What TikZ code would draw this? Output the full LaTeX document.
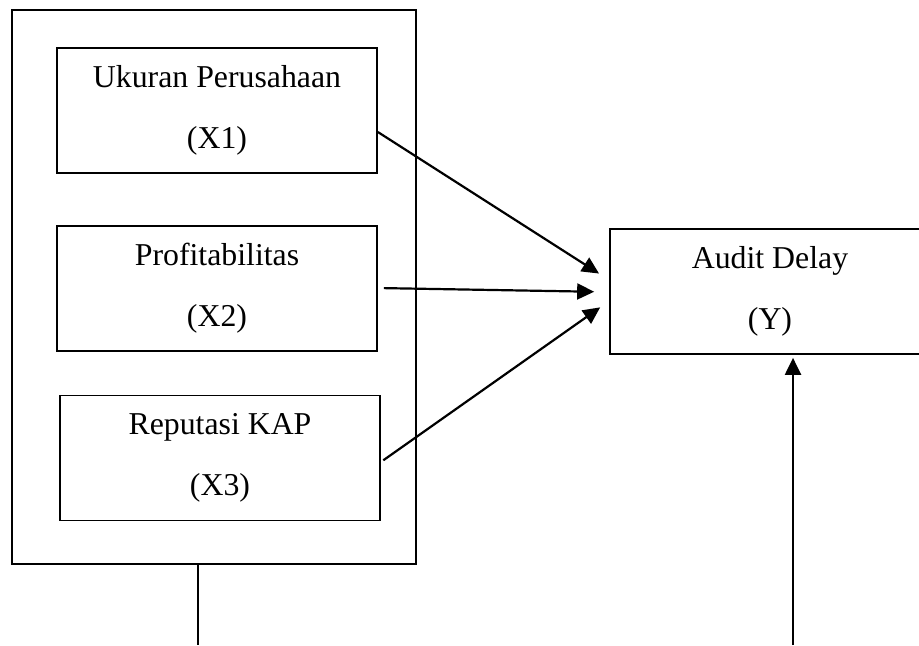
\documentclass[tikz,border=0pt]{standalone}
\usepackage{fontspec}
\setmainfont{Liberation Serif}
\usepackage{tikz}
\usetikzlibrary{arrows.meta, positioning}

\begin{document}
\begin{tikzpicture}[
  x=0.5pt, y=-0.5pt,
  every node/.style={font=\fontsize{15.9}{30.5}\selectfont},
  frame/.style={rectangle, draw, line width=1.2pt, minimum width=202pt,
                minimum height=277pt},
  varbox/.style={rectangle, draw, line width=0.85pt, minimum width=160pt,
                 minimum height=62.5pt, inner sep=0pt, align=center},
  arr/.style={-{Triangle[length=8.5pt,width=8pt]}, line width=1.1pt},
]
  \useasboundingbox (0,0) rectangle (919,645);

  \node[frame] (indep) at (214,287) {};
  \node[varbox] (ukuran) at (217,110.5) {Ukuran Perusahaan\\(X1)};
  \node[varbox] (profit) at (217,288.5) {Profitabilitas\\(X2)};
  \node[varbox] (kap) at (220,458) {Reputasi KAP\\(X3)};

  \node[varbox] (delay) at (770,291.5) {Audit Delay\\(Y)};

  \coordinate (lowleft) at (198,645);
  \coordinate (lowright) at (793,645);

  \draw[arr, shorten >=6pt] ([yshift=-10.75pt]ukuran.east) -- ([yshift=5.75pt]delay.west);
  \draw[arr, shorten <=3pt, shorten >=7.5pt] ([yshift=0.25pt]profit.east) -- ([yshift=-0.25pt]delay.west);
  \draw[arr, shorten <=1.5pt, shorten >=5.5pt] ([yshift=-2pt]kap.east) -- ([yshift=-4.75pt]delay.west);

  \draw[line width=0.7pt] (indep.south -| lowleft) -- (lowleft);
  \draw[arr, shorten >=1.5pt] (lowright) -- (lowright |- delay.south);
\end{tikzpicture}
\end{document}
